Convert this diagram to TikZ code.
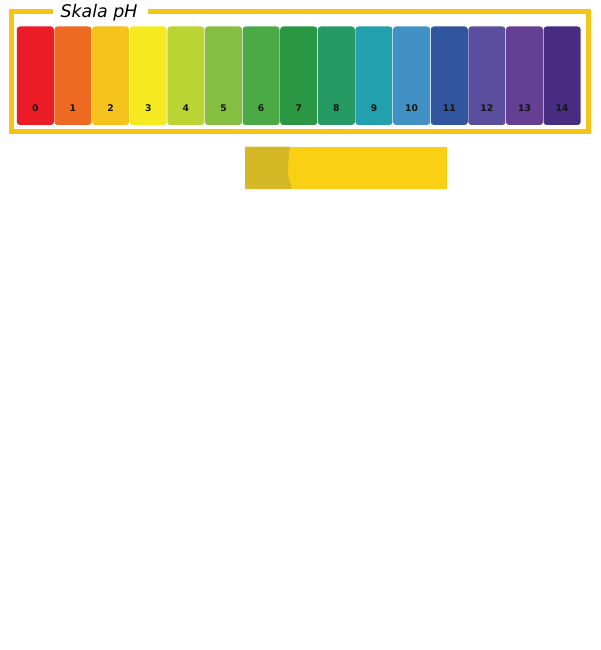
\documentclass[tikz,border=0pt]{standalone}
\usepackage{fontspec}
\setmainfont{DejaVu Sans}
\newfontfamily\titlefont{DejaVu Sans}
\definecolor{frameY}{HTML}{F4C417}
\definecolor{c0}{HTML}{EC1C27}
\definecolor{c1}{HTML}{EE6A23}
\definecolor{c2}{HTML}{F5C31B}
\definecolor{c3}{HTML}{F4EA1F}
\definecolor{c4}{HTML}{BAD433}
\definecolor{c5}{HTML}{85BE41}
\definecolor{c6}{HTML}{4BAA46}
\definecolor{c7}{HTML}{2B9742}
\definecolor{c8}{HTML}{259A62}
\definecolor{c9}{HTML}{22A0AE}
\definecolor{c10}{HTML}{4291C5}
\definecolor{c11}{HTML}{31559F}
\definecolor{c12}{HTML}{5B4E9E}
\definecolor{c13}{HTML}{653F92}
\definecolor{c14}{HTML}{472C82}
\definecolor{stripY}{HTML}{FAD015}
\definecolor{stripD}{HTML}{D4B826}
\definecolor{numC}{HTML}{141414}
\tikzset{
  swatch/.style={rounded corners=3pt, draw=none, minimum width=37pt, minimum height=98.5pt, inner sep=0pt, outer sep=0pt},
  numlbl/.style={font=\bfseries\fontsize{9.2}{11}\selectfont, text=numC, inner sep=0pt, anchor=base},
  titlelbl/.style={font=\titlefont\itshape\fontsize{17.4}{20}\selectfont, inner sep=0pt, anchor=base},
}
\begin{document}
\begin{tikzpicture}[x=1pt,y=-1pt]
\useasboundingbox (0,0) rectangle (600,650);
% frame with gap for title
\draw[frameY, line width=5pt] (53,11.5) -- (11.5,11.5) -- (11.5,131.5) -- (588,131.5) -- (588,11.5) -- (148,11.5);
\node[titlelbl] (title) at (99,17.5) {Skala pH};
% swatches
\foreach \i in {0,...,14} {
  \pgfmathsetmacro{\cx}{16.5 + 37.63*\i + 18.815}
  \node[swatch, fill=c\i] (s\i) at (\cx, 75.75) {};
  \node[numlbl] (n\i) at (\cx, 111.3) {\i};
}
% test strip
\fill[stripY] (245,146.5) rectangle (446.5,189);
\fill[stripD] (245,146.5) -- (290,146.5) .. controls (288.5,156) and (288,166) .. (288,172) .. controls (288,180) and (291.5,184) .. (291.5,189) -- (245,189) -- cycle;
\end{tikzpicture}
\end{document}
